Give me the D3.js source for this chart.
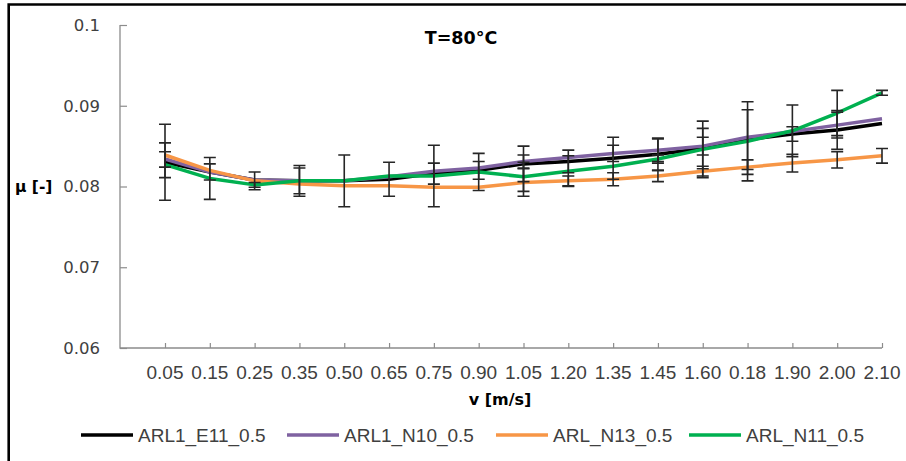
<!DOCTYPE html>
<html>
<head>
<meta charset="utf-8">
<script src="https://cdn.jsdelivr.net/npm/d3@7"></script>
<style>
  body { margin: 0; background: #fff; }
  svg { display: block; }
</style>
</head>
<body>
<div id="chart"></div>
<script>
// categories (v [m/s]) as printed on the axis
const categories = ['0.05','0.15','0.25','0.35','0.50','0.65','0.75','0.90','1.05','1.20','1.35','1.45','1.60','0.18','1.90','2.00','2.10'];
const yTicks = [0.06, 0.07, 0.08, 0.09, 0.1];

// mean friction coefficient per series
const arl1E11 = [0.0830,0.0818,0.0808,0.0807,0.0807,0.0809,0.0816,0.0820,0.0828,0.0831,0.0835,0.0840,0.0847,0.0858,0.0865,0.0870,0.0878];
const arl1N10 = [0.0834,0.0818,0.0808,0.0807,0.0807,0.0812,0.0819,0.0823,0.0831,0.0836,0.0841,0.0845,0.0850,0.0861,0.0868,0.0876,0.0884];
const arlN13  = [0.0839,0.0820,0.0807,0.0803,0.0801,0.0801,0.0799,0.0799,0.0805,0.0807,0.0809,0.0813,0.0819,0.0824,0.0829,0.0833,0.0838];
const arlN11  = [0.0827,0.0810,0.0802,0.0807,0.0807,0.0813,0.0813,0.0818,0.0812,0.0819,0.0825,0.0834,0.0846,0.0856,0.0869,0.0891,0.0916];

// +/- error per point (0 = no bar shown)
const errE11 = [0.0047,0.0010,0,0.0019,0.0032,0.0021,0.0013,0.0011,0.0022,0.0014,0.0026,0.0020,0.0025,0.0037,0.0009,0.0024,0];
const errN10 = [0,0,0,0,0,0,0,0,0.0008,0,0.0010,0.0014,0.0011,0,0,0.0016,0];
const errN13 = [0.0015,0,0.0011,0,0,0,0,0,0.0017,0.0006,0.0008,0.0007,0.0006,0.0009,0.0011,0.0010,0.0009];
const errN11 = [0.0016,0.0026,0.0003,0.0016,0,0,0.0038,0.0023,0.0018,0.0019,0,0.0005,0.0035,0.0049,0.0032,0.0028,0.0003];

const seriesNames = ['ARL1_E11_0.5','ARL1_N10_0.5','ARL_N13_0.5','ARL_N11_0.5'];
const seriesColors = ['#000000','#7f62a1','#f79646','#00b050'];

const series = seriesNames.map((name, i) => ({
  name: name,
  color: seriesColors[i],
  values: [arl1E11, arl1N10, arlN13, arlN11][i],
  errors: [errE11, errN10, errN13, errN11][i]
}));

const width = 906, height = 461;
const svg = d3.select('#chart').append('svg')
  .attr('width', width)
  .attr('height', height);

const x = d3.scalePoint().domain(categories).range([165, 882]);
const y = d3.scaleLinear().domain([0.06, 0.1]).range([348, 25]);
const axisLeft = 120;

// frame (only left and top are in the crop)
svg.append('path')
  .attr('d', `M8.7,${height} L8.7,4.5 L${width},4.5`)
  .attr('fill', 'none').attr('stroke', '#000').attr('stroke-width', 2.6);

// axes
const axisColor = '#8c8c8c';
const yAxis = svg.append('g').attr('transform', `translate(${axisLeft},0)`)
  .call(d3.axisRight(y).tickValues(yTicks).tickSize(7).tickFormat(''));
yAxis.select('.domain').remove();
yAxis.selectAll('line').attr('stroke', axisColor).attr('stroke-width', 1.2);

const xAxis = svg.append('g').attr('transform', `translate(0,${y(0.06)})`)
  .call(d3.axisTop(x).tickSize(5).tickFormat(''));
xAxis.select('.domain').remove();
xAxis.selectAll('line').attr('stroke', axisColor).attr('stroke-width', 1.2);

svg.append('path')
  .attr('d', `M${axisLeft},${y(0.1)} L${axisLeft},${y(0.06)} L${x(categories[categories.length-1])},${y(0.06)}`)
  .attr('fill', 'none').attr('stroke', axisColor).attr('stroke-width', 1.3);

// y tick labels
svg.append('g').selectAll('text')
  .data(yTicks).enter().append('text')
  .attr('x', 100).attr('y', d => y(d)).attr('dy', '0.36em')
  .attr('text-anchor', 'end')
  .style('font-family', '"DejaVu Sans", Verdana, sans-serif')
  .style('font-size', '16.5px').attr('fill', '#404040')
  .text(d => d === 0.1 ? '0.1' : d.toFixed(2));

// x tick labels
svg.append('g').selectAll('text')
  .data(categories).enter().append('text')
  .attr('x', d => x(d)).attr('y', 379)
  .attr('text-anchor', 'middle')
  .style('font-family', '"Liberation Sans Narrow", "Liberation Sans", sans-serif')
  .style('font-size', '19px').attr('fill', '#404040')
  .text(d => d);

// titles
svg.append('text').attr('x', 461).attr('y', 44).attr('text-anchor', 'middle')
  .style('font-family', '"DejaVu Sans", sans-serif').style('font-weight', 'bold')
  .style('font-size', '17.5px').attr('fill', '#000').text('T=80°C');
svg.append('text').attr('x', 500).attr('y', 405).attr('text-anchor', 'middle')
  .style('font-family', '"DejaVu Sans", sans-serif').style('font-weight', 'bold')
  .style('font-size', '16px').attr('fill', '#000').text('v [m/s]');
svg.append('text').attr('x', 15).attr('y', y(0.08)).attr('dy', '0.36em')
  .style('font-family', '"DejaVu Sans", sans-serif').style('font-weight', 'bold')
  .style('font-size', '15.5px').attr('fill', '#000').text('μ [-]');

// lines
const line = d3.line()
  .x((d, i) => x(categories[i]))
  .y(d => y(d));

svg.append('g').selectAll('path')
  .data(series).enter().append('path')
  .attr('d', d => line(d.values))
  .attr('fill', 'none')
  .attr('stroke', d => d.color)
  .attr('stroke-width', 3.5)
  .attr('stroke-linejoin', 'round');

// error bars
const bars = [];
series.forEach(s => {
  s.values.forEach((v, i) => {
    if (s.errors[i] > 0) bars.push({cat: categories[i], lo: v - s.errors[i], hi: v + s.errors[i]});
  });
});
const capW = 6;
const eb = svg.append('g').attr('stroke', '#262626').attr('stroke-width', 1.6).attr('fill', 'none');
eb.selectAll('path')
  .data(bars).enter().append('path')
  .attr('d', d => {
    const cx = x(d.cat);
    return `M${cx},${y(d.hi)} L${cx},${y(d.lo)}` +
      `M${cx - capW},${y(d.hi)} L${cx + capW},${y(d.hi)}` +
      `M${cx - capW},${y(d.lo)} L${cx + capW},${y(d.lo)}`;
  });

// legend
const legendX = [81, 287, 496, 689];
const lg = svg.append('g').selectAll('g')
  .data(series).enter().append('g')
  .attr('transform', (d, i) => `translate(${legendX[i]},435)`);
lg.append('line').attr('x1', 0).attr('x2', 52).attr('y1', 0).attr('y2', 0)
  .attr('stroke', d => d.color).attr('stroke-width', 3.5);
lg.append('text').attr('x', 57).attr('y', 0).attr('dy', '0.36em')
  .style('font-family', '"Liberation Sans Narrow", "Liberation Sans", sans-serif')
  .style('font-size', '19px').attr('fill', '#404040')
  .text(d => d.name);
</script>
</body>
</html>
